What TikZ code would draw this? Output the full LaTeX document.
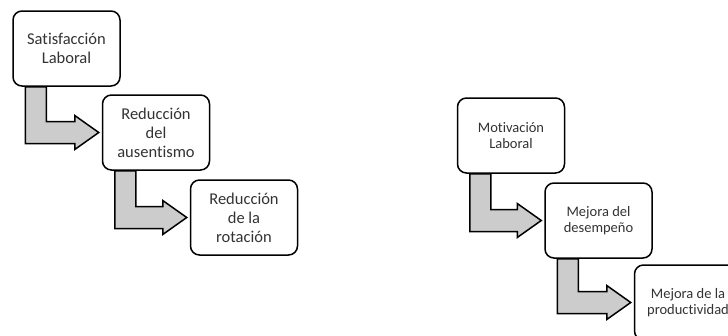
\documentclass[tikz,border=0pt]{standalone}
\usepackage{fontspec}
\setmainfont[Ligatures={NoCommon}]{Carlito}
\usetikzlibrary{calc}

\tikzset{
    caja/.style={draw, line width=1.5pt, rounded corners=9pt, fill=white,
        minimum width=107pt, minimum height=75pt, align=center,
        text=black!80, inner sep=2pt},
    grande/.style={font=\fontsize{16.5}{19}\selectfont},
    chica/.style={font=\fontsize{14.5}{16}\selectfont},
    flecha/.style={draw, line width=1.5pt, fill=black!20, line join=miter}
}

\begin{document}
\begin{tikzpicture}[x=1pt, y=-1pt]
        \useasboundingbox (0,0) rectangle (728,335);
        \clip (0,0) rectangle (728,335);

        % Nodes
        \node[caja, grande] (sat) at (66.5, 48.5) {Satisfacción\\Laboral};
        \node[caja, grande] (aus) at (156, 132.5) {Reducción\\del\\ausentismo};
        \node[caja, grande] (rot) at (244, 217.5) {Reducción\\de la\\rotación};
        \node[caja, chica] (mot) at (511, 135.5) {Motivación\\Laboral};
        \node[caja, chica] (des) at (598.5, 220.5) {Mejora del\\desempeño};
        \node[caja, chica] (pro) at (688, 302.5) {Mejora de la\\productividad};

        % Edges
        \foreach \a/\b in {sat/aus, aus/rot, mot/des, des/pro}
            \draw[flecha] let \p1=(\a.south west), \p2=(\b.west) in
                (\x1+13pt,\y1) -- (\x1+34pt,\y1) -- (\x1+34pt,\y2+11pt)
                -- (\x2-27pt,\y2+11pt) -- (\x2-27pt,\y2+17pt) -- (\x2-3pt,\y2)
                -- (\x2-27pt,\y2-17pt) -- (\x2-27pt,\y2-11pt)
                -- (\x1+13pt,\y2-11pt) -- cycle;
    \end{tikzpicture}
\end{document}
